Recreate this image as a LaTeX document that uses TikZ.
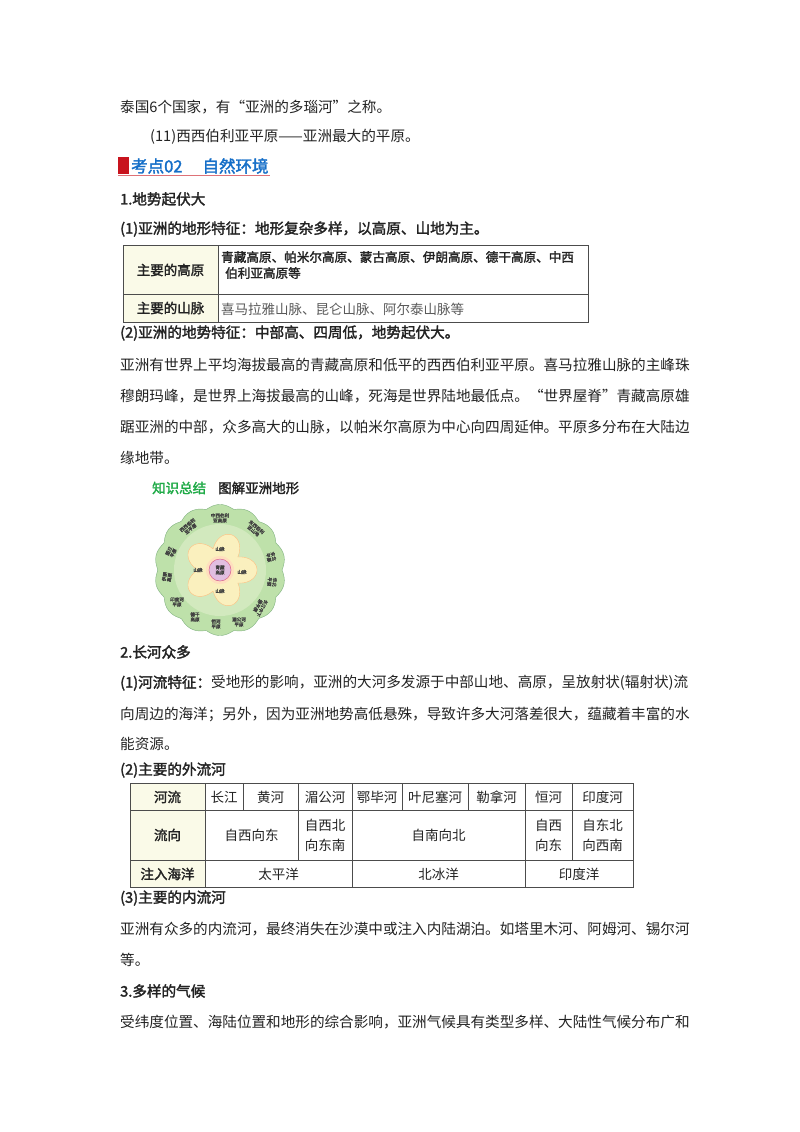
\documentclass[tikz,border=0pt]{standalone}
\usepackage{fontspec}
\setmainfont{Noto Sans CJK SC}[AutoFakeBold=2]
\usetikzlibrary{calc}
\definecolor{hblue}{RGB}{20,110,200}
\definecolor{hred}{RGB}{200,20,30}
\definecolor{kgreen}{RGB}{30,170,70}
\definecolor{cellyel}{RGB}{250,250,232}
\definecolor{txt}{RGB}{35,35,35}
\definecolor{gtxt}{RGB}{90,90,90}
\definecolor{fgreen}{RGB}{190,225,170}
\definecolor{fgreen2}{RGB}{215,235,195}
\definecolor{fyel}{RGB}{250,240,190}
\definecolor{fpink}{RGB}{225,190,225}
\tikzset{
  line/.style={anchor=west,inner sep=0pt,text=txt,font=\fontsize{14.6}{17}\selectfont},
  bline/.style={line,font=\fontsize{14.6}{17}\selectfont\bfseries},
  cell/.style={inner sep=0pt,text=txt,font=\fontsize{13.5}{20}\selectfont,align=center},
  bcell/.style={cell,font=\fontsize{13.5}{20}\selectfont\bfseries},
  fl/.style={inner sep=0pt,font=\fontsize{4.6}{5}\selectfont\bfseries,text=black!75,align=center},
  tb/.style={draw=black!70,line width=0.6pt}
}
\begin{document}
\begin{tikzpicture}[x=1pt,y=-1pt]
\useasboundingbox (0,0) rectangle (800,1132);
\fill[white] (0,0) rectangle (800,1132);
\node[line] (l1) at (120,107) {泰国6个国家，有“亚洲的多瑙河”之称。};
\node[line] (l2) at (150,137) {(11)西西伯利亚平原——亚洲最大的平原。};
% heading
\fill[hred] (118,157) rectangle (129,174);
\node[anchor=west,inner sep=0pt,text=hblue,font=\fontsize{16.5}{18}\selectfont\bfseries] (h) at (131,166) {考点02\hspace{20pt}自然环境};
\draw[hred!60,line width=1.3pt] (118,175.5) -- (270,175.5);
\node[bline] (s1) at (120,199) {1.地势起伏大};
\node[bline] (s2) at (120,229) {(1)亚洲的地形特征：地形复杂多样，以高原、山地为主。};
% table 1
\fill[cellyel] (123,245) rectangle (218,322);
\draw[tb] (123,245) rectangle (588,322);
\draw[tb] (218,245) -- (218,322);
\draw[tb] (123,294) -- (588,294);
\node[bcell] (t1a) at (170.5,270) {主要的高原};
\node[bcell] (t1b) at (170.5,308) {主要的山脉};
\node[anchor=north west,inner sep=0pt,text=txt,font=\fontsize{12.6}{16}\selectfont\bfseries,align=left] (t1c) at (221,251) {青藏高原、帕米尔高原、蒙古高原、伊朗高原、德干高原、中西\\\hspace{4pt}伯利亚高原等};
\node[anchor=west,inner sep=0pt,text=gtxt,font=\fontsize{13.5}{16}\selectfont] (t1d) at (221,309) {喜马拉雅山脉、昆仑山脉、阿尔泰山脉等};
\node[bline] (s3) at (120,333) {(2)亚洲的地势特征：中部高、四周低，地势起伏大。};
\node[line] (p1) at (120,365) {亚洲有世界上平均海拔最高的青藏高原和低平的西西伯利亚平原。喜马拉雅山脉的主峰珠};
\node[line] (p2) at (120,396) {穆朗玛峰，是世界上海拔最高的山峰，死海是世界陆地最低点。“世界屋脊”青藏高原雄};
\node[line] (p3) at (120,427) {踞亚洲的中部，众多高大的山脉，以帕米尔高原为中心向四周延伸。平原多分布在大陆边};
\node[line] (p4) at (120,458) {缘地带。};
\node[anchor=west,inner sep=0pt,text=kgreen,font=\fontsize{13.5}{16}\selectfont\bfseries] (k) at (152,488) {知识总结};
\node[anchor=west,inner sep=0pt,text=txt,font=\fontsize{13.5}{16}\selectfont\bfseries] (k2) at (218,488) {图解亚洲地形};
% flower diagram
\begin{scope}[shift={(220,570)}]
  \fill[fgreen,draw=green!40!black!50,line width=0.4pt]
    plot[domain=0:360,samples=240,smooth] (\x:{62+3.5*abs(sin(7*\x))});
  \fill[fgreen2!80!fgreen] (0,0) circle (46);
  \fill[fyel,draw=orange!50,line width=0.4pt]
    plot[domain=0:360,samples=200,smooth] (\x:{22+15*abs(cos(2.5*\x))});
  \fill[orange!25] (0,0) circle (14);
  \fill[fpink,draw=purple!60,line width=0.5pt] (0,0) circle (11);
  \node[fl] (c) at (0,0) {青藏\\高原};
  \node[fl] (m1) at (0,-21) {山脉};
  \node[fl] (m2) at (0,21) {山脉};
  \node[fl] (m3) at (-22,0) {山脉};
  \node[fl] (m4) at (22,2) {山脉};
  \node[fl] (o1) at (0,-52) {中西伯利\\亚高原};
  \node[fl,rotate=-40] (o2) at (35,-41) {东西伯利\\亚山地};
  \node[fl,rotate=-75] (o3) at (51,-13) {东北\\平原};
  \node[fl,rotate=-95] (o4) at (52,12) {华北\\平原};
  \node[fl,rotate=-120] (o5) at (40,37) {长江中下\\游平原};
  \node[fl] (o6) at (19,52) {湄公河\\平原};
  \node[fl] (o7) at (-4,54) {恒河\\平原};
  \node[fl] (o8) at (-25,47) {德干\\高原};
  \node[fl] (o9) at (-43,32) {印度河\\平原};
  \node[fl,rotate=80] (o10) at (-53,7) {伊朗\\高原};
  \node[fl,rotate=65] (o11) at (-49,-18) {图兰\\平原};
  \node[fl,rotate=40] (o12) at (-31,-43) {西西伯利\\亚平原};
\end{scope}
\node[bline] (s4) at (120,652) {2.长河众多};
\node[line] (q1) at (120,683) {\textbf{(1)河流特征：}受地形的影响，亚洲的大河多发源于中部山地、高原，呈放射状(辐射状)流};
\node[line] (q2) at (120,714) {向周边的海洋；另外，因为亚洲地势高低悬殊，导致许多大河落差很大，蕴藏着丰富的水};
\node[line] (q3) at (120,744) {能资源。};
\node[bline] (s5) at (120,770) {(2)主要的外流河};
% table 2
\fill[cellyel] (130,783) rectangle (205,887);
\draw[tb] (130,783) rectangle (633,887);
\draw[tb] (130,810) -- (633,810);
\draw[tb] (130,860) -- (633,860);
\draw[tb] (205,783) -- (205,887);
\draw[tb] (243,783) -- (243,810);
\draw[tb] (298,783) -- (298,860);
\draw[tb] (352,783) -- (352,887);
\draw[tb] (402,783) -- (402,810);
\draw[tb] (468,783) -- (468,810);
\draw[tb] (525,783) -- (525,887);
\draw[tb] (572,783) -- (572,860);
\node[bcell] (r1) at (167.5,797) {河流};
\node[bcell] (r2) at (167.5,835) {流向};
\node[bcell] (r3) at (167.5,874) {注入海洋};
\node[cell] (a1) at (224,797) {长江};
\node[cell] (a2) at (270.5,797) {黄河};
\node[cell] (a3) at (325,797) {湄公河};
\node[cell] (a4) at (377,797) {鄂毕河};
\node[cell] (a5) at (435,797) {叶尼塞河};
\node[cell] (a6) at (496.5,797) {勒拿河};
\node[cell] (a7) at (548.5,797) {恒河};
\node[cell] (a8) at (602.5,797) {印度河};
\node[cell] (b1) at (251.5,835) {自西向东};
\node[cell] (b2) at (325,835) {自西北\\向东南};
\node[cell] (b3) at (438.5,835) {自南向北};
\node[cell] (b4) at (548.5,835) {自西\\向东};
\node[cell] (b5) at (602.5,835) {自东北\\向西南};
\node[cell] (c1) at (278.5,874) {太平洋};
\node[cell] (c2) at (438.5,874) {北冰洋};
\node[cell] (c3) at (579,874) {印度洋};
\node[bline] (s6) at (120,898) {(3)主要的内流河};
\node[line] (u1) at (120,929) {亚洲有众多的内流河，最终消失在沙漠中或注入内陆湖泊。如塔里木河、阿姆河、锡尔河};
\node[line] (u2) at (120,960) {等。};
\node[bline] (s7) at (120,991) {3.多样的气候};
\node[line] (u3) at (120,1022) {受纬度位置、海陆位置和地形的综合影响，亚洲气候具有类型多样、大陆性气候分布广和};
\end{tikzpicture}
\end{document}
